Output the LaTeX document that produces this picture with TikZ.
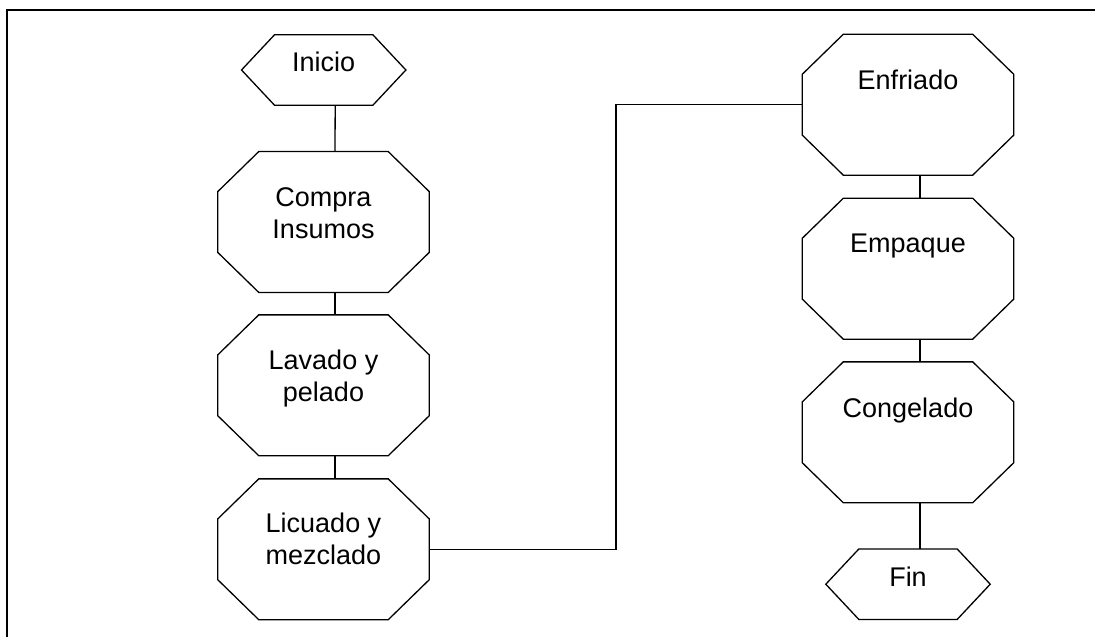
\documentclass[tikz,border=0pt]{standalone}
\usepackage{fontspec}
\setmainfont{Liberation Sans}
\newcommand\octdraw[1]{\draw[shapeline] ([xshift=41pt]#1.north west) -- ([xshift=-41pt]#1.north east) -- ([yshift=-40pt]#1.north east) -- ([yshift=40pt]#1.south east) -- ([xshift=-41pt]#1.south east) -- ([xshift=41pt]#1.south west) -- ([yshift=40pt]#1.south west) -- ([yshift=-40pt]#1.north west) -- cycle;}
\newcommand\hexdraw[1]{\draw[shapeline] ([xshift=33pt]#1.north west) -- ([xshift=-33pt]#1.north east) -- (#1.east) -- ([xshift=-33pt]#1.south east) -- ([xshift=33pt]#1.south west) -- (#1.west) -- cycle;}
\tikzset{
  shapeline/.style={draw=black, line width=1.3pt, line join=miter},
  conn/.style={draw=black, line width=1.3pt},
  framel/.style={draw=black, line width=2pt},
  txt/.style={font=\fontsize{27}{32}\selectfont, align=center, text depth=0pt, inner sep=0pt},
  stepbox/.style={rectangle, draw=none, inner sep=0pt, minimum width=211pt, minimum height=140.5pt},
  termbox/.style={rectangle, draw=none, inner sep=0pt, minimum width=164pt, minimum height=70pt},
}
\begin{document}
\begin{tikzpicture}[x=1pt, y=-1pt]
\useasboundingbox (0,0) rectangle (1095,637);
% frame
\coordinate (ftl) at (7,10);
\coordinate (ftr) at (1095,10);
\coordinate (fbl) at (7,637);
\draw[framel] (fbl) -- (ftl) -- (ftr);
% left column
\node[termbox, label={[txt,yshift=8pt]center:Inicio}] (ini) at (323.7,70) {};
\node[stepbox, label={[txt,yshift=8.5pt]center:Compra\\Insumos}] (com) at (323.5,222) {};
\node[stepbox, label={[txt,yshift=10pt]center:Lavado y\\pelado}] (lav) at (323.5,385.3) {};
\node[stepbox, label={[txt,yshift=10.5pt]center:Licuado y\\mezclado}] (lic) at (323.5,549.3) {};
% right column
\node[stepbox, label={[txt,yshift=25pt]center:Enfriado}] (enf) at (908,104.7) {};
\node[stepbox, label={[txt,yshift=25pt]center:Empaque}] (emp) at (908,268.7) {};
\node[stepbox, label={[txt,yshift=25pt]center:Congelado}] (con) at (908,432.3) {};
\node[termbox, label={[txt,yshift=7.5pt]center:Fin}] (fin) at (908,584.2) {};
\hexdraw{ini}
\octdraw{com}
\octdraw{lav}
\octdraw{lic}
\octdraw{enf}
\octdraw{emp}
\octdraw{con}
\hexdraw{fin}
% connectors
\draw[conn] ([xshift=11.5pt]ini.south) -- ([xshift=11.5pt]com.north);
\draw[conn] ([xshift=11.5pt]com.south) -- ([xshift=11.5pt]lav.north);
\draw[conn] ([xshift=11.5pt]lav.south) -- ([xshift=11.5pt]lic.north);
\coordinate (bend) at (616,300);
\draw[conn] (lic.east) -- (lic.east -| bend) -- (bend |- enf.west) -- (enf.west);
\draw[conn] ([xshift=12pt]enf.south) -- ([xshift=12pt]emp.north);
\draw[conn] ([xshift=12pt]emp.south) -- ([xshift=12pt]con.north);
\draw[conn] ([xshift=12pt]con.south) -- ([xshift=12pt]fin.north);
\end{tikzpicture}
\end{document}
